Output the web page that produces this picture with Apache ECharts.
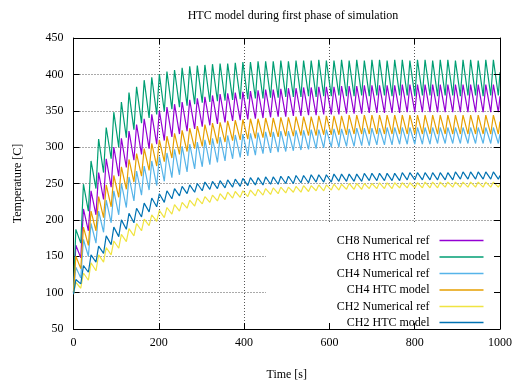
<!DOCTYPE html>
<html><head><meta charset="utf-8">
<script src="https://cdn.jsdelivr.net/npm/echarts@6/dist/echarts.min.js"></script>
<style>html,body{margin:0;padding:0;background:#fff}#c{width:515px;height:386px}</style>
</head><body><div id="c"></div>
<script>
const seriesNames = ['CH8 Numerical ref','CH8 HTC model','CH4 Numerical ref','CH4 HTC model','CH2 Numerical ref','CH2 HTC model'];
const seriesColors = ['#9400d3','#009e73','#56b4e9','#e69f00','#f0e442','#0072b2'];
const xTickValues = [0,200,400,600,800,1000];
const yTickValues = [50,100,150,200,250,300,350,400,450];

const peakTimes = [5.5,23.3,41.1,58.9,76.7,94.5,112.3,130.1,147.9,165.7,183.5,201.3,219.1,236.9,254.7,272.5,290.3,308.1,325.9,343.7,361.5,379.3,397.1,414.9,432.7,450.5,468.3,486.1,503.9,521.7,539.5,557.3,575.1,592.9,610.7,628.5,646.3,664.1,681.9,699.7,717.5,735.3,753.1,770.9,788.7,806.5,824.3,842.1,859.9,877.7,895.5,913.3,931.1,948.9,966.7,984.5];
const troughTimes = [17.1,34.9,52.7,70.5,88.3,106.1,123.9,141.7,159.5,177.3,195.1,212.9,230.7,248.5,266.3,284.1,301.9,319.7,337.5,355.3,373.1,390.9,408.7,426.5,444.3,462.1,479.9,497.7,515.5,533.3,551.1,568.9,586.7,604.5,622.3,640.1,657.9,675.7,693.5,711.3,729.1,746.9,764.7,782.5,800.3,818.1,835.9,853.7,871.5,889.3,907.1,924.9,942.7,960.5,978.3,996.1];
const startTime = 0;
const endTime = 1000;
const startTemps = [100,100,100,100,98,98];
const endTemps = [370,403,318,335,249,261];

const ch8NumPeaks = [165,215,240,265,284,300,312,322,331,339,345,350,355,359,362,365,367,369,371,373,374,375,376,377,378,379,379,380,381,381,382,382,383,383,383,384,384,384,385,385,385,385,385,386,386,386,386,386,386,386,386,386,386,386,386,386];
const ch8NumTroughs = [148,185,207,228,245,260,272,282,290,298,304,309,314,318,322,325,328,330,332,334,336,337,338,339,340,341,342,342,343,343,344,344,345,345,345,346,346,346,347,347,347,347,347,348,348,348,348,348,348,348,348,348,348,348,348,348];
const ch8HtcPeaks = [187,249,281,311,327,348,362,375,383,392,396,400,404,406,409,411,412,413,414,415,415,416,417,417,418,418,418,419,418,419,419,419,420,419,419,420,419,420,419,420,420,419,420,420,419,420,420,419,420,420,419,420,420,419,420,420];
const ch8HtcTroughs = [168,212,243,265,284,300,313,324,333,340,345,349,352,355,357,359,361,362,363,364,365,366,366,367,367,368,368,369,369,369,370,369,370,370,371,370,370,371,370,371,371,370,371,371,370,371,371,370,371,371,370,371,371,370,371,371];
const ch4NumPeaks = [135,173,195,212,227,240,250,259,267,274,281,287,292,297,301,304,307,310,312,314,316,317,318,319,320,321,321,322,322,323,323,324,324,324,325,325,325,326,326,326,326,327,327,327,327,327,327,327,327,327,327,327,327,327,327,327];
const ch4NumTroughs = [120,150,168,183,196,207,217,226,234,241,247,253,258,262,266,270,273,276,279,281,284,286,288,289,291,292,293,294,295,296,297,298,299,300,300,301,301,302,302,303,303,303,304,304,304,304,304,305,305,305,305,305,305,305,305,305];
const ch4HtcPeaks = [150,190,212,232,248,261,273,283,291,298,305,310,315,319,323,326,329,331,333,334,336,337,338,339,339,340,340,341,341,342,342,342,343,343,343,343,344,344,344,344,344,344,344,344,344,344,344,344,344,344,344,344,344,344,344,344];
const ch4HtcTroughs = [133,165,185,203,218,231,242,252,260,268,274,280,285,290,294,298,301,303,305,307,309,310,311,312,313,314,314,315,315,316,316,316,317,317,317,317,318,318,318,318,318,318,318,318,318,318,318,318,318,318,318,318,318,318,318,318];
const ch2NumPeaks = [114,127,141,152,162,171,180,188,195,201,207,213,217,221,224,227,230,232,234,236,238,239,240,241,242,243,244,245,245,246,247,247,248,248,249,249,250,250,250,250,251,251,251,251,251,251,252,252,252,252,252,252,252,252,252,252];
const ch2NumTroughs = [106,117,130,142,152,161,170,178,185,192,198,203,208,212,216,219,222,224,226,228,230,231,232,233,234,235,236,237,238,238,239,240,240,241,241,242,242,242,243,243,243,243,244,244,244,244,244,244,245,245,245,245,245,245,245,245];
const ch2HtcPeaks = [118,137,152,164,178,190,200,209,216,223,230,236,240,243,246,248,250,252,253,254,255,256,257,258,258,259,259,260,260,261,261,262,262,262,263,263,263,263,264,264,264,264,264,265,265,265,265,265,265,265,266,266,266,266,266,266];
const ch2HtcTroughs = [112,128,142,154,166,177,187,196,204,211,218,224,229,233,236,238,240,242,243,244,245,246,247,248,248,249,249,250,250,251,251,252,252,252,253,253,253,253,254,254,254,254,254,255,255,255,255,255,255,255,256,256,256,256,256,256];

const seriesPeaks = [ch8NumPeaks, ch8HtcPeaks, ch4NumPeaks, ch4HtcPeaks, ch2NumPeaks, ch2HtcPeaks];
const seriesTroughs = [ch8NumTroughs, ch8HtcTroughs, ch4NumTroughs, ch4HtcTroughs, ch2NumTroughs, ch2HtcTroughs];

function buildSeriesData(i) {
  const peaks = seriesPeaks[i], troughs = seriesTroughs[i];
  const n = Math.min(peakTimes.length, troughTimes.length, peaks.length, troughs.length);
  const d = [[startTime, startTemps[i]]];
  for (let k = 0; k < n; k++) {
    d.push([peakTimes[k], peaks[k]]);
    d.push([troughTimes[k], troughs[k]]);
  }
  d.push([endTime, endTemps[i]]);
  return d;
}

const FONT = "'Liberation Serif','Times New Roman',serif";
const chart = echarts.init(document.getElementById('c'), null, {renderer: 'canvas'});
const legendRowCenters = [241.5, 258, 274.5, 291, 307.5, 323.5];
const gridSplit = {show: true, lineStyle: {color: '#555', width: 1, type: [1, 2]}};

chart.setOption({
  animation: false,
  backgroundColor: '#fff',
  title: {
    text: 'HTC model during first phase of simulation',
    left: 288, top: 5, textAlign: 'center',
    textStyle: {fontFamily: FONT, fontSize: 12, fontWeight: 'normal', color: '#000'}
  },
  grid: {left: 73.5, right: 12.5, top: 38, bottom: 51, containLabel: false},
  xAxis: [{
    type: 'value', min: 0, max: 1000, interval: 200, position: 'bottom', z: 10,
    name: 'Time [s]', nameLocation: 'middle', nameGap: 40,
    nameTextStyle: {fontFamily: FONT, fontSize: 12, color: '#000'},
    axisLine: {show: true, onZero: false, lineStyle: {color: '#000', width: 1}},
    axisTick: {show: true, inside: true, length: 6, lineStyle: {color: '#000'}},
    axisLabel: {show: true, margin: 8, fontFamily: FONT, fontSize: 12, color: '#000',
      formatter: v => xTickValues.includes(v) ? String(v) : ''},
    splitLine: {show: false}
  }, {
    type: 'value', min: 0, max: 1000, interval: 200, position: 'top', z: 0,
    axisLine: {show: true, onZero: false, lineStyle: {color: '#000', width: 1}},
    axisTick: {show: true, inside: true, length: 6, lineStyle: {color: '#000'}},
    axisLabel: {show: false},
    splitLine: gridSplit
  }],
  yAxis: [{
    type: 'value', min: 50, max: 450, interval: 50, position: 'left', z: 0,
    name: 'Temperature [C]', nameLocation: 'middle', nameGap: 50, nameRotate: 90,
    nameTextStyle: {fontFamily: FONT, fontSize: 12, color: '#000'},
    axisLine: {show: true, onZero: false, lineStyle: {color: '#000', width: 1}},
    axisTick: {show: true, inside: true, length: 6, lineStyle: {color: '#000'}},
    axisLabel: {show: true, margin: 10, fontFamily: FONT, fontSize: 12, color: '#000',
      formatter: v => yTickValues.includes(v) ? String(v) : ''},
    splitLine: gridSplit
  }, {
    type: 'value', min: 50, max: 450, interval: 50, position: 'right', z: 10,
    axisLine: {show: true, onZero: false, lineStyle: {color: '#000', width: 1}},
    axisTick: {show: true, inside: true, length: 6, lineStyle: {color: '#000'}},
    axisLabel: {show: false},
    splitLine: {show: false}
  }],
  graphic: {
    elements: [{
      type: 'rect', z: 5, silent: true,
      shape: {x: 266, y: 224, width: 236, height: 110.5},
      style: {fill: '#fff'}
    }]
  },
  legend: seriesNames.map((name, i) => ({
    data: [name], orient: 'vertical', align: 'right', right: 31.5,
    top: legendRowCenters[i] - 7, itemWidth: 44, itemHeight: 14, padding: 0,
    icon: 'path://M0,0L44,0L44,1.5L0,1.5Z', symbolKeepAspect: true,
    selectedMode: false, z: 12,
    textStyle: {fontFamily: FONT, fontSize: 12, color: '#000', padding: [0, 5, 0, 0]}
  })),
  series: seriesNames.map((name, i) => ({
    name, type: 'line', xAxisIndex: 0, yAxisIndex: 0,
    data: buildSeriesData(i),
    showSymbol: false, symbol: 'none', smooth: false,
    color: seriesColors[i],
    lineStyle: {color: seriesColors[i], width: 1.2},
    emphasis: {disabled: true}
  }))
});
</script>
</body></html>
